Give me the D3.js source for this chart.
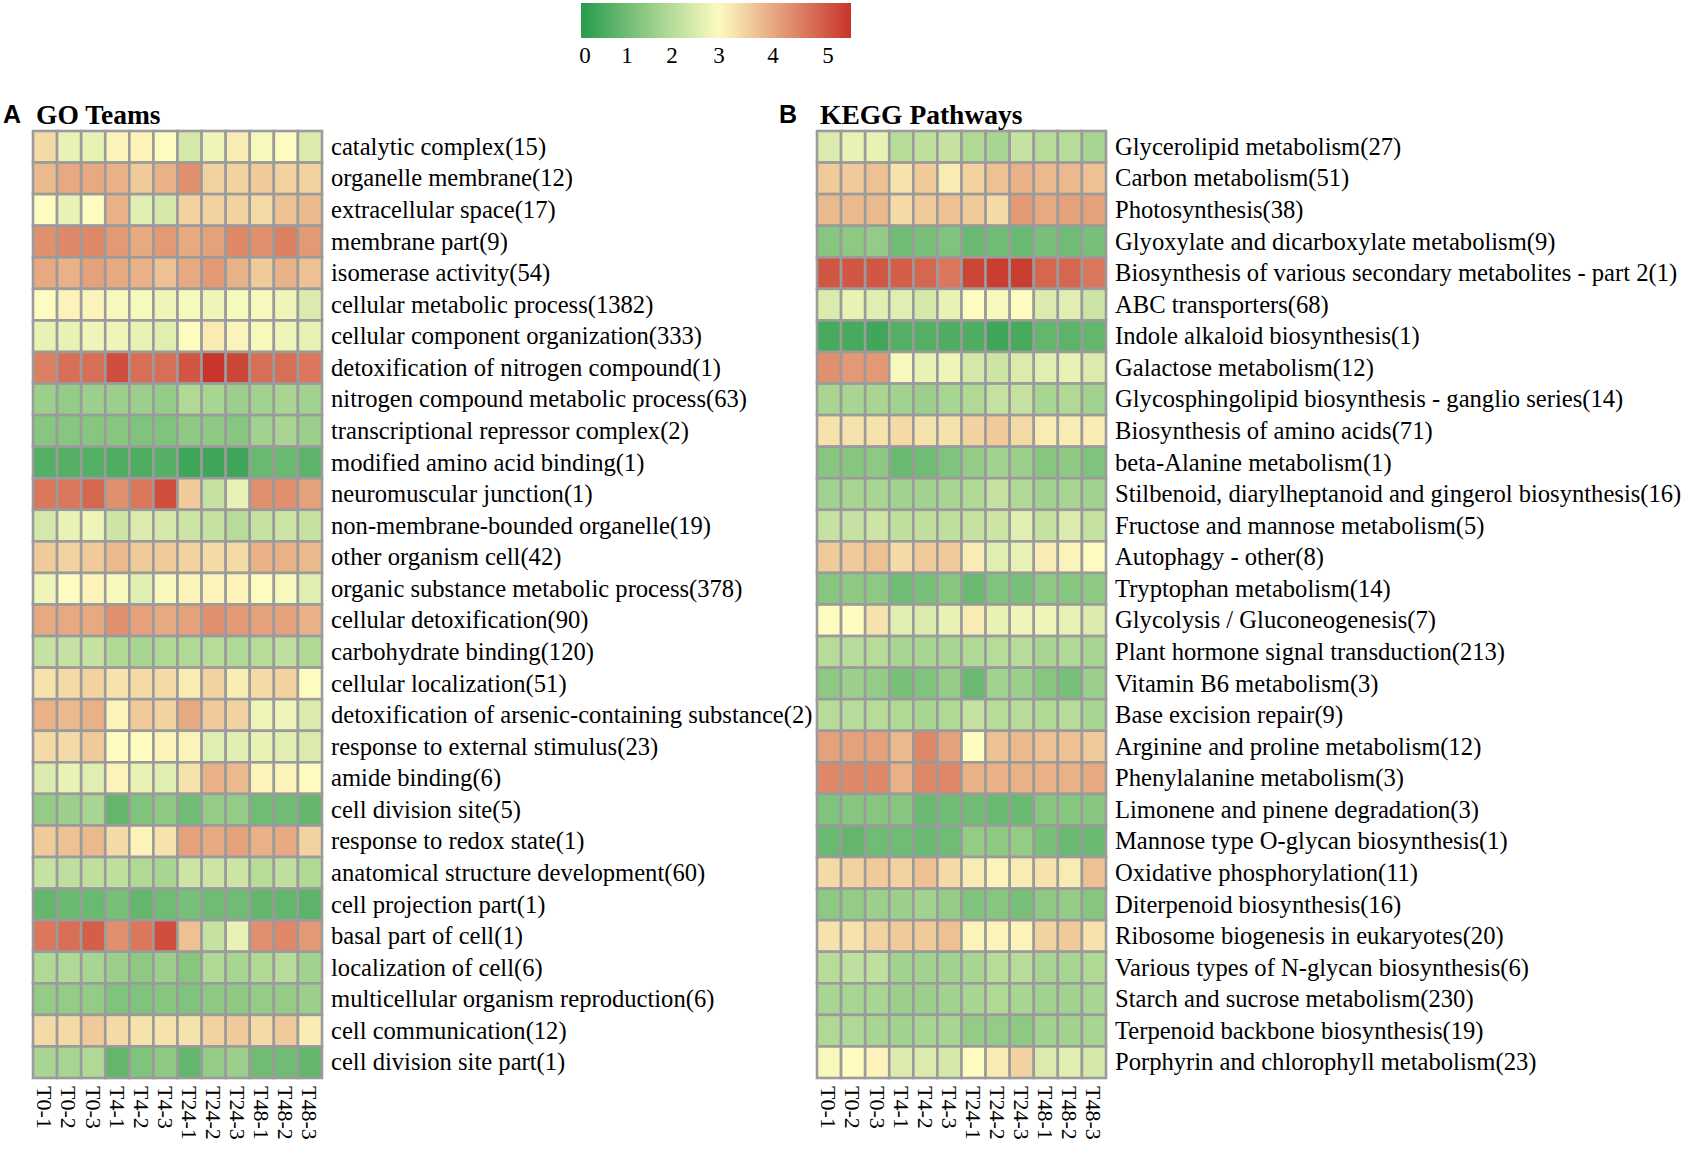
<!DOCTYPE html>
<html>
<head>
<meta charset="utf-8">
<script src="https://cdn.jsdelivr.net/npm/d3@7"></script>
<style>
  body { margin: 0; background: #fff; }
  svg { display: block; }
  .rowLabel, .colLabel, .tickLabel { font-family: "Liberation Serif", "Times New Roman", serif; fill: #000; }
  .title { font-family: "Liberation Serif", "Times New Roman", serif; font-weight: bold; fill: #000; }
  .panelLetter { font-family: "Liberation Sans", Arial, sans-serif; font-weight: bold; fill: #000; }
</style>
</head>
<body>
<div id="chart"></div>
<script>
let samples = ["T0-1", "T0-2", "T0-3", "T4-1", "T4-2", "T4-3", "T24-1", "T24-2", "T24-3", "T48-1", "T48-2", "T48-3"];

let goTerms = [
	"catalytic complex(15)",
	"organelle membrane(12)",
	"extracellular space(17)",
	"membrane part(9)",
	"isomerase activity(54)",
	"cellular metabolic process(1382)",
	"cellular component organization(333)",
	"detoxification of nitrogen compound(1)",
	"nitrogen compound metabolic process(63)",
	"transcriptional repressor complex(2)",
	"modified amino acid binding(1)",
	"neuromuscular junction(1)",
	"non-membrane-bounded organelle(19)",
	"other organism cell(42)",
	"organic substance metabolic process(378)",
	"cellular detoxification(90)",
	"carbohydrate binding(120)",
	"cellular localization(51)",
	"detoxification of arsenic-containing substance(2)",
	"response to external stimulus(23)",
	"amide binding(6)",
	"cell division site(5)",
	"response to redox state(1)",
	"anatomical structure development(60)",
	"cell projection part(1)",
	"basal part of cell(1)",
	"localization of cell(6)",
	"multicellular organism reproduction(6)",
	"cell communication(12)",
	"cell division site part(1)",
];

let goValues = [
	[3.4, 2.7, 2.7, 3.1, 3.1, 3.0, 2.4, 2.8, 3.2, 2.9, 3.0, 2.5],
	[3.8, 4.0, 4.0, 3.9, 3.6, 3.9, 4.3, 3.5, 3.5, 3.6, 3.5, 3.5],
	[3.0, 2.7, 3.0, 3.9, 2.6, 2.4, 3.5, 3.5, 3.5, 3.4, 3.7, 3.8],
	[4.3, 4.4, 4.4, 4.2, 4.0, 4.2, 4.0, 4.1, 4.4, 4.3, 4.5, 4.2],
	[4.0, 3.9, 4.1, 4.0, 3.9, 3.7, 4.0, 4.2, 3.9, 3.6, 3.9, 3.7],
	[3.0, 3.1, 3.1, 2.9, 2.9, 2.8, 2.9, 2.8, 2.9, 2.9, 2.8, 2.5],
	[2.7, 2.7, 2.8, 2.8, 2.7, 2.6, 3.0, 3.2, 3.1, 2.9, 2.8, 2.7],
	[4.5, 4.7, 4.7, 5.1, 4.7, 4.7, 5.0, 5.4, 5.2, 4.7, 4.7, 4.6],
	[1.6, 1.5, 1.6, 1.6, 1.6, 1.5, 1.9, 1.8, 1.6, 1.7, 1.8, 1.7],
	[1.3, 1.3, 1.3, 1.3, 1.2, 1.2, 1.4, 1.4, 1.3, 1.7, 1.8, 1.6],
	[0.6, 0.6, 0.6, 0.5, 0.5, 0.6, 0.3, 0.3, 0.3, 0.9, 0.9, 0.7],
	[4.6, 4.6, 4.8, 4.3, 4.6, 5.1, 3.6, 2.2, 2.7, 4.3, 4.3, 4.1],
	[2.4, 2.7, 2.8, 2.3, 2.5, 2.4, 2.3, 2.2, 2.0, 2.2, 2.3, 2.2],
	[3.6, 3.5, 3.6, 3.8, 3.6, 3.6, 3.5, 3.4, 3.4, 3.9, 3.9, 3.8],
	[2.8, 3.0, 3.1, 2.9, 2.6, 2.9, 3.1, 3.1, 3.1, 3.0, 2.9, 2.6],
	[4.0, 4.0, 4.0, 4.3, 4.1, 4.0, 4.1, 4.3, 4.2, 4.1, 4.1, 3.9],
	[2.2, 2.2, 2.2, 1.9, 1.8, 1.9, 1.9, 2.0, 1.9, 2.0, 2.1, 1.9],
	[3.3, 3.4, 3.5, 3.3, 3.4, 3.4, 3.2, 3.5, 3.2, 3.4, 3.5, 3.0],
	[3.9, 3.8, 3.9, 3.1, 3.6, 3.5, 4.0, 3.6, 3.5, 2.8, 2.8, 2.5],
	[3.4, 3.4, 3.6, 3.0, 3.0, 3.1, 3.1, 2.6, 2.6, 2.7, 2.6, 2.5],
	[2.5, 2.7, 2.6, 3.1, 2.7, 2.6, 3.3, 3.9, 3.8, 3.1, 3.1, 3.0],
	[1.5, 1.6, 1.8, 0.8, 1.2, 1.4, 1.0, 1.5, 1.5, 1.0, 1.0, 0.8],
	[3.6, 3.7, 3.8, 3.4, 3.1, 3.3, 4.1, 4.0, 4.1, 3.9, 4.0, 3.5],
	[2.2, 2.1, 2.1, 2.1, 1.9, 1.8, 2.3, 2.3, 2.3, 2.0, 2.1, 1.9],
	[0.8, 0.9, 0.9, 1.1, 0.8, 1.0, 1.1, 1.0, 1.0, 0.8, 0.8, 0.7],
	[4.6, 4.7, 4.9, 4.3, 4.6, 5.1, 3.7, 2.2, 2.7, 4.3, 4.4, 4.2],
	[1.9, 1.9, 1.8, 1.6, 1.4, 1.6, 1.3, 1.9, 1.8, 1.9, 2.0, 1.7],
	[1.5, 1.5, 1.5, 1.2, 1.2, 1.3, 1.2, 1.4, 1.4, 1.5, 1.5, 1.6],
	[3.4, 3.4, 3.6, 3.4, 3.3, 3.3, 3.3, 3.5, 3.6, 3.4, 3.6, 3.2],
	[1.8, 1.8, 1.9, 0.8, 1.2, 1.4, 0.8, 1.5, 1.6, 1.0, 1.0, 0.8],
];

let keggTerms = [
	"Glycerolipid metabolism(27)",
	"Carbon metabolism(51)",
	"Photosynthesis(38)",
	"Glyoxylate and dicarboxylate metabolism(9)",
	"Biosynthesis of various secondary metabolites - part 2(1)",
	"ABC transporters(68)",
	"Indole alkaloid biosynthesis(1)",
	"Galactose metabolism(12)",
	"Glycosphingolipid biosynthesis - ganglio series(14)",
	"Biosynthesis of amino acids(71)",
	"beta-Alanine metabolism(1)",
	"Stilbenoid, diarylheptanoid and gingerol biosynthesis(16)",
	"Fructose and mannose metabolism(5)",
	"Autophagy - other(8)",
	"Tryptophan metabolism(14)",
	"Glycolysis / Gluconeogenesis(7)",
	"Plant hormone signal transduction(213)",
	"Vitamin B6 metabolism(3)",
	"Base excision repair(9)",
	"Arginine and proline metabolism(12)",
	"Phenylalanine metabolism(3)",
	"Limonene and pinene degradation(3)",
	"Mannose type O-glycan biosynthesis(1)",
	"Oxidative phosphorylation(11)",
	"Diterpenoid biosynthesis(16)",
	"Ribosome biogenesis in eukaryotes(20)",
	"Various types of N-glycan biosynthesis(6)",
	"Starch and sucrose metabolism(230)",
	"Terpenoid backbone biosynthesis(19)",
	"Porphyrin and chlorophyll metabolism(23)",
];

let keggValues = [
	[2.5, 2.7, 2.7, 2.0, 2.1, 2.2, 1.9, 1.8, 2.2, 2.0, 2.0, 1.8],
	[3.6, 3.6, 3.7, 3.3, 3.6, 3.2, 3.5, 3.7, 3.9, 3.8, 3.8, 3.7],
	[3.8, 3.8, 3.8, 3.4, 3.6, 3.7, 3.6, 3.4, 4.2, 4.0, 4.1, 4.1],
	[1.3, 1.4, 1.5, 1.0, 1.1, 1.2, 0.9, 1.0, 0.9, 1.1, 1.0, 1.1],
	[5.0, 5.0, 5.0, 4.9, 4.8, 4.6, 5.2, 5.3, 5.3, 4.8, 4.8, 4.6],
	[2.5, 2.7, 2.6, 2.6, 2.4, 2.7, 3.0, 2.9, 3.0, 2.5, 2.6, 2.3],
	[0.4, 0.4, 0.3, 0.6, 0.6, 0.5, 0.5, 0.3, 0.4, 0.8, 0.7, 0.8],
	[4.3, 4.2, 4.2, 2.9, 2.7, 2.8, 2.4, 2.3, 2.5, 2.6, 2.7, 2.5],
	[1.8, 1.8, 1.8, 1.7, 1.6, 1.8, 1.9, 2.2, 2.2, 1.8, 1.9, 1.7],
	[3.3, 3.3, 3.3, 3.4, 3.3, 3.3, 3.5, 3.6, 3.4, 3.2, 3.2, 3.2],
	[1.3, 1.3, 1.4, 0.9, 1.0, 1.2, 1.5, 1.7, 1.6, 1.3, 1.4, 1.2],
	[1.7, 1.8, 1.8, 1.7, 1.7, 1.8, 1.9, 2.2, 1.9, 1.7, 1.8, 1.7],
	[2.2, 2.2, 2.3, 2.1, 2.1, 2.1, 2.2, 2.3, 2.6, 2.2, 2.5, 2.2],
	[3.6, 3.6, 3.7, 3.4, 3.6, 3.6, 3.2, 2.6, 2.7, 3.2, 3.1, 3.0],
	[1.3, 1.4, 1.4, 1.0, 1.1, 1.3, 0.9, 1.2, 1.1, 1.4, 1.3, 1.4],
	[3.0, 3.0, 3.3, 2.6, 2.5, 2.7, 3.2, 2.7, 2.8, 2.8, 2.7, 2.5],
	[2.0, 2.0, 2.0, 1.8, 1.8, 1.8, 1.9, 2.0, 2.0, 1.8, 1.9, 1.8],
	[1.4, 1.6, 1.5, 1.1, 1.2, 1.5, 0.9, 1.7, 1.6, 1.3, 1.1, 1.6],
	[2.0, 2.0, 2.0, 1.9, 1.8, 1.9, 2.2, 2.0, 2.0, 1.9, 2.0, 1.8],
	[4.1, 4.1, 4.1, 3.8, 4.4, 4.1, 3.0, 3.7, 3.8, 3.7, 3.7, 3.6],
	[4.4, 4.4, 4.4, 3.9, 4.4, 4.4, 3.9, 3.9, 3.9, 3.9, 3.9, 4.0],
	[1.2, 1.3, 1.3, 1.3, 0.9, 1.0, 1.0, 0.9, 0.9, 1.3, 1.3, 1.3],
	[0.9, 0.8, 1.0, 1.0, 0.9, 1.0, 1.5, 1.4, 1.5, 1.1, 0.9, 0.9],
	[3.4, 3.5, 3.6, 3.5, 3.7, 3.4, 3.2, 3.1, 3.2, 3.3, 3.2, 3.7],
	[1.4, 1.5, 1.6, 1.6, 1.7, 1.5, 1.2, 1.3, 1.1, 1.4, 1.5, 1.3],
	[3.3, 3.3, 3.5, 3.6, 3.6, 3.7, 3.1, 3.1, 3.1, 3.5, 3.6, 3.3],
	[2.0, 2.1, 2.1, 1.7, 1.7, 1.7, 1.8, 2.0, 2.0, 1.8, 1.8, 1.9],
	[1.8, 1.8, 1.8, 1.6, 1.6, 1.7, 1.8, 1.9, 1.8, 1.7, 1.7, 1.8],
	[1.9, 1.9, 1.8, 1.7, 1.8, 1.8, 1.5, 1.5, 1.4, 1.7, 1.7, 1.8],
	[2.9, 3.0, 3.1, 2.5, 2.5, 2.4, 3.0, 3.2, 3.5, 2.5, 2.6, 2.4],
];

let legendTicks = [0, 1, 2, 3, 4, 5];

var w = 1682,
	h = 1152,
	gridTop = 131,
	gridBottom = 1078,
	gridWidth = 289,
	borderColor = "#9b9b9b";

let colorScale = d3
	.scaleLinear()
	.domain([0, 3, 5.4])
	.range(["#2b9d4e", "#fdfbc0", "#c8352b"])
	.clamp(true);

let svg = d3
	.select("#chart")
	.append("svg")
	.attr("width", w)
	.attr("height", h);

// one heatmap panel
function drawPanel(terms, values, left, letter, title, letterX) {
	let x = d3.scaleBand().domain(samples).range([left, left + gridWidth]);
	let y = d3.scaleBand().domain(terms).range([gridTop, gridBottom]);

	let cells = [];
	terms.forEach((t, i) => {
		samples.forEach((s, j) => {
			cells.push({ term: t, sample: s, value: values[i][j] });
		});
	});

	let g = svg.append("g");

	g.selectAll("rect")
		.data(cells)
		.enter()
		.append("rect")
		.attr("x", (d) => x(d.sample))
		.attr("y", (d) => y(d.term))
		.attr("width", x.bandwidth())
		.attr("height", y.bandwidth())
		.attr("fill", (d) => colorScale(d.value))
		.attr("stroke", borderColor)
		.attr("stroke-width", 2.6);

	g.selectAll(".rowLabel")
		.data(terms)
		.enter()
		.append("text")
		.attr("class", "rowLabel")
		.attr("x", left + gridWidth + 9)
		.attr("y", (d) => y(d) + y.bandwidth() / 2)
		.attr("dy", "0.33em")
		.style("font-size", "24.6px")
		.text((d) => d);

	g.selectAll(".colLabel")
		.data(samples)
		.enter()
		.append("text")
		.attr("class", "colLabel")
		.attr("transform", (d) => "translate(" + (x(d) + x.bandwidth() / 2) + "," + (gridBottom + 8) + ") rotate(90)")
		.attr("dy", "0.35em")
		.style("font-size", "22px")
		.text((d) => d);

	svg.append("text")
		.attr("class", "panelLetter")
		.attr("x", letterX)
		.attr("y", 123)
		.style("font-size", "25px")
		.text(letter);

	svg.append("text")
		.attr("class", "title")
		.attr("x", left + 3)
		.attr("y", 124)
		.style("font-size", "27.5px")
		.text(title);
}

drawPanel(goTerms, goValues, 33, "A", "GO Teams", 3);
drawPanel(keggTerms, keggValues, 817, "B", "KEGG Pathways", 779);

// colour key
let barLeft = 581,
	barWidth = 270;

let barScale = d3
	.scaleLinear()
	.domain(legendTicks)
	.range([0.015, 0.17, 0.337, 0.511, 0.711, 0.915].map((f) => barLeft + f * barWidth));

let grad = svg
	.append("defs")
	.append("linearGradient")
	.attr("id", "keyGradient")
	.attr("x1", "0%")
	.attr("x2", "100%");

grad.selectAll("stop")
	.data(d3.range(0, 1.0001, 0.02))
	.enter()
	.append("stop")
	.attr("offset", (d) => d * 100 + "%")
	.attr("stop-color", (d) => colorScale(barScale.invert(barLeft + d * barWidth)));

svg.append("rect")
	.attr("x", barLeft)
	.attr("y", 3)
	.attr("width", barWidth)
	.attr("height", 35)
	.attr("fill", "url(#keyGradient)");

svg.selectAll(".tickLabel")
	.data(legendTicks)
	.enter()
	.append("text")
	.attr("class", "tickLabel")
	.attr("x", (d) => barScale(d))
	.attr("y", 63)
	.attr("text-anchor", "middle")
	.style("font-size", "23px")
	.text((d) => d);
</script>
</body>
</html>
